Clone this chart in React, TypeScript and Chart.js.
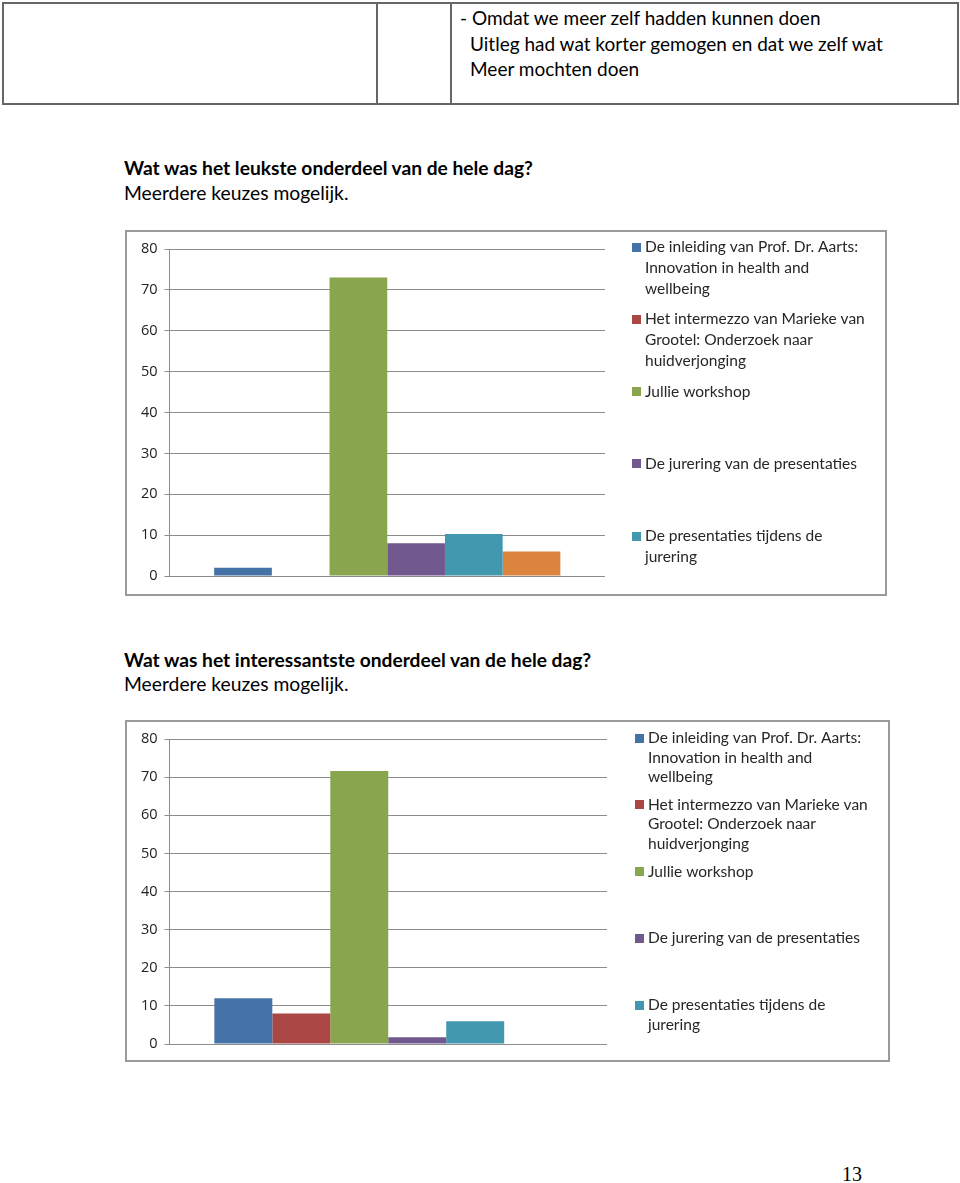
import React, { useEffect, useRef } from "react";
import { Chart, registerables } from "chart.js";

Chart.register(...registerables);

// ---------- data ----------
const categories: string[] = [""];
const seriesLabels: string[] = [
  "De inleiding van Prof. Dr. Aarts:\nInnovation in health and\nwellbeing",
  "Het intermezzo van Marieke van\nGrootel: Onderzoek naar\nhuidverjonging",
  "Jullie workshop",
  "De jurering van de presentaties",
  "De presentaties tijdens de\njurering",
  "",
];
const seriesColors: string[] = ["#4572A7", "#AA4643", "#89A54E", "#71588F", "#4198AF", "#DB843D"];
const leuksteValues: number[] = [2, 0, 73, 8, 10.3, 6];
const interessantsteValues: number[] = [12, 8, 71.6, 1.8, 6, 0];
const yMin = 0;
const yMax = 80;
const yStep = 10;
const legendCount = 5;

const tableLines: string[] = [
  "- Omdat we meer zelf hadden kunnen doen",
  "Uitleg had wat korter gemogen en dat we zelf wat",
  "Meer mochten doen",
];
const heading1 = "Wat was het leukste onderdeel van de hele dag?";
const heading2 = "Wat was het interessantste onderdeel van de hele dag?";
const subHeading = "Meerdere keuzes mogelijk.";
const pageNumber = "13";

const BODY_FONT = "Lato, 'Open Sans', sans-serif";

type LegendOpts = { x: number; top: number; pitch: number; lineHeight: number; box: number; gap: number; font: string };

function makeLegendPlugin(o: LegendOpts) {
  return {
    id: "excelLegend",
    afterDraw(chart: any) {
      const ctx = chart.ctx as CanvasRenderingContext2D;
      ctx.save();
      chart.data.datasets.forEach((ds: any, i: number) => {
        if (i >= legendCount) return;
        const lines = String(ds.label).split("\n");
        const y0 = o.top + i * o.pitch;
        ctx.fillStyle = ds.backgroundColor;
        ctx.fillRect(o.x, Math.round(y0 - o.box / 2), o.box, o.box);
        ctx.fillStyle = "#262626";
        ctx.font = o.font;
        ctx.textBaseline = "middle";
        ctx.textAlign = "left";
        lines.forEach((l, j) => ctx.fillText(l, o.x + o.box + o.gap, y0 + j * o.lineHeight));
      });
      ctx.restore();
    },
  };
}

type ChartBoxProps = {
  values: number[];
  left: number;
  top: number;
  width: number;
  height: number;
  pad: { top: number; right: number; bottom: number };
  axisWidth: number;
  legend: LegendOpts;
};

function ChartBox({ values, left, top, width, height, pad, axisWidth, legend }: ChartBoxProps) {
  const ref = useRef<HTMLCanvasElement | null>(null);
  const innerW = width - 4;
  const innerH = height - 4;
  useEffect(() => {
    if (!ref.current) return;
    const chart = new Chart(ref.current, {
      type: "bar",
      data: {
        labels: categories,
        datasets: seriesLabels.map((label, i) => ({
          label,
          data: [values[i]],
          backgroundColor: seriesColors[i],
          borderWidth: 0,
          categoryPercentage: 0.795,
          barPercentage: 1,
        })),
      },
      options: {
        animation: false,
        responsive: false,
        maintainAspectRatio: false,
        layout: { padding: { left: 0, top: pad.top, right: pad.right, bottom: pad.bottom } },
        plugins: { legend: { display: false }, tooltip: { enabled: false } },
        scales: {
          x: { display: false },
          y: {
            min: yMin,
            max: yMax,
            ticks: {
              stepSize: yStep,
              padding: 7,
              color: "#222",
              font: { family: "'Open Sans', sans-serif", size: 14.5 },
            },
            grid: { color: "#8c8c8c", lineWidth: 1, tickLength: 5, drawTicks: true },
            border: { display: true, color: "#8c8c8c", width: 1 },
            afterFit: (s: any) => {
              s.width = axisWidth;
            },
          },
        },
      },
      plugins: [makeLegendPlugin(legend)],
    } as any);
    return () => chart.destroy();
  }, []);
  return (
    <div
      style={{
        position: "absolute",
        left,
        top,
        width,
        height,
        boxSizing: "border-box",
        border: "2px solid #9a9a9a",
        background: "#fff",
      }}
    >
      <canvas ref={ref} width={innerW} height={innerH} style={{ display: "block", width: innerW, height: innerH }} />
    </div>
  );
}

function Text({ x, y, size, bold, children, font }: { x: number; y: number; size: number; bold?: boolean; children: React.ReactNode; font?: string }) {
  const lh = Math.round(size * 1.4);
  return (
    <div
      style={{
        position: "absolute",
        left: x,
        top: y - lh / 2,
        lineHeight: lh + "px",
        height: lh,
        fontSize: size,
        fontWeight: bold ? 700 : 400,
        fontFamily: font || BODY_FONT,
        whiteSpace: "nowrap",
        color: "#000",
      }}
    >
      {children}
    </div>
  );
}

export default function App() {
  return (
    <div style={{ position: "absolute", left: 0, top: 0, width: 960, height: 1183, background: "#fff", overflow: "hidden" }}>
      {/* table fragment */}
      <div style={{ position: "absolute", left: 2, top: 2, width: 957, height: 103, boxSizing: "border-box", border: "2px solid #666" }} />
      <div style={{ position: "absolute", left: 376, top: 2, width: 2, height: 103, background: "#666" }} />
      <div style={{ position: "absolute", left: 450, top: 2, width: 2, height: 103, background: "#666" }} />
      <Text x={460} y={17} size={19}>{tableLines[0]}</Text>
      <Text x={470} y={43} size={19}>{tableLines[1]}</Text>
      <Text x={470} y={68} size={19}>{tableLines[2]}</Text>

      <Text x={124} y={167} size={19.2} bold>{heading1}</Text>
      <Text x={124} y={192} size={19.3}>{subHeading}</Text>

      <ChartBox
        values={leuksteValues}
        left={125}
        top={230}
        width={762}
        height={366}
        pad={{ top: 17, right: 280, bottom: 18 }}
        axisWidth={42.5}
        legend={{ x: 505, top: 15, pitch: 72.3, lineHeight: 21, box: 9, gap: 4, font: "15.5px Lato, 'Open Sans', sans-serif" }}
      />

      <Text x={124} y={659} size={19.2} bold>{heading2}</Text>
      <Text x={124} y={683} size={19.3}>{subHeading}</Text>

      <ChartBox
        values={interessantsteValues}
        left={125}
        top={720}
        width={765}
        height={342}
        pad={{ top: 17, right: 281, bottom: 16 }}
        axisWidth={42.5}
        legend={{ x: 508, top: 16, pitch: 66.8, lineHeight: 19.5, box: 9, gap: 4, font: "15.5px Lato, 'Open Sans', sans-serif" }}
      />

      <Text x={842} y={1174} size={20} font="'Liberation Serif', 'DejaVu Serif', serif">{pageNumber}</Text>
    </div>
  );
}
